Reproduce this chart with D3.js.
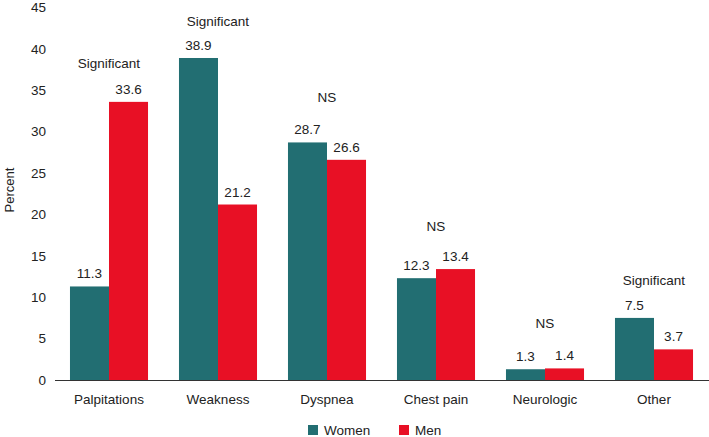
<!DOCTYPE html>
<html><head><meta charset="utf-8">
<script src="https://cdn.jsdelivr.net/npm/d3@7"></script>
<style>
body{margin:0;background:#fff;}
text{font-family:"Liberation Sans",Arial,Helvetica,sans-serif;fill:#222;}
</style></head>
<body><svg id="c" width="709" height="437"></svg>
<script>
const categories = ["Palpitations","Weakness","Dyspnea","Chest pain","Neurologic","Other"];
const women = [11.3, 38.9, 28.7, 12.3, 1.3, 7.5];
const men = [33.6, 21.2, 26.6, 13.4, 1.4, 3.7];
const significance = ["Significant","Significant","NS","NS","NS","Significant"];
const sigLevel = [38.3, 43.3, 34.2, 18.6, 6.9, 12.0];
const yTicks = [0,5,10,15,20,25,30,35,40,45];
const seriesNames = ["Women","Men"];
const colors = ["#226e72","#e81025"];

const svg = d3.select("#c");
const fs = "13.5px";
const x = d3.scaleBand().domain(categories).range([54.5,708.5]).paddingInner(0.284).paddingOuter(0.142);
const xs = d3.scaleBand().domain(seriesNames).range([0,x.bandwidth()]);
const y = d3.scaleLinear().domain([0,45]).range([380,7.5]);

// y tick labels
svg.append("g").selectAll("text").data(yTicks).join("text")
  .attr("x",46).attr("y",d=>y(d)).attr("dy","0.35em").attr("text-anchor","end")
  .style("font-size",fs).text(d=>d);

svg.append("text").attr("transform","translate(14,190) rotate(-90)")
  .attr("text-anchor","middle").style("font-size","13px").text("Percent");

const groups = svg.append("g").selectAll("g").data(categories).join("g")
  .attr("transform",d=>`translate(${x(d)},0)`);

const series = [women, men];
series.forEach((vals,si)=>{
  groups.append("rect")
    .attr("x",xs(seriesNames[si])).attr("width",xs.bandwidth())
    .attr("y",(d,i)=>y(vals[i])).attr("height",(d,i)=>y(0)-y(vals[i]))
    .attr("fill",colors[si]);
  groups.append("text")
    .attr("x",xs(seriesNames[si])+xs.bandwidth()/2)
    .attr("y",(d,i)=>y(vals[i])-8)
    .attr("text-anchor","middle").style("font-size",fs)
    .text((d,i)=>vals[i].toFixed(1));
});

groups.append("text")
  .attr("x",x.bandwidth()/2).attr("y",(d,i)=>y(sigLevel[i])).attr("dy","0.35em")
  .attr("text-anchor","middle").style("font-size",fs)
  .text((d,i)=>significance[i]);

// x axis
svg.append("line").attr("x1",55).attr("x2",709).attr("y1",380.5).attr("y2",380.5)
  .attr("stroke","#333").attr("stroke-width",1.2);
svg.append("g").selectAll("text").data(categories).join("text")
  .attr("x",d=>x(d)+x.bandwidth()/2).attr("y",404)
  .attr("text-anchor","middle").style("font-size",fs).text(d=>d);

// legend
const legX = [308, 399];
const lg = svg.append("g").selectAll("g").data(seriesNames).join("g")
  .attr("transform",(d,i)=>`translate(${legX[i]},425)`);
lg.append("rect").attr("width",10).attr("height",10).attr("fill",(d,i)=>colors[i]);
lg.append("text").attr("x",16).attr("y",5).attr("dy","0.35em").style("font-size",fs).text(d=>d);
</script></body></html>
